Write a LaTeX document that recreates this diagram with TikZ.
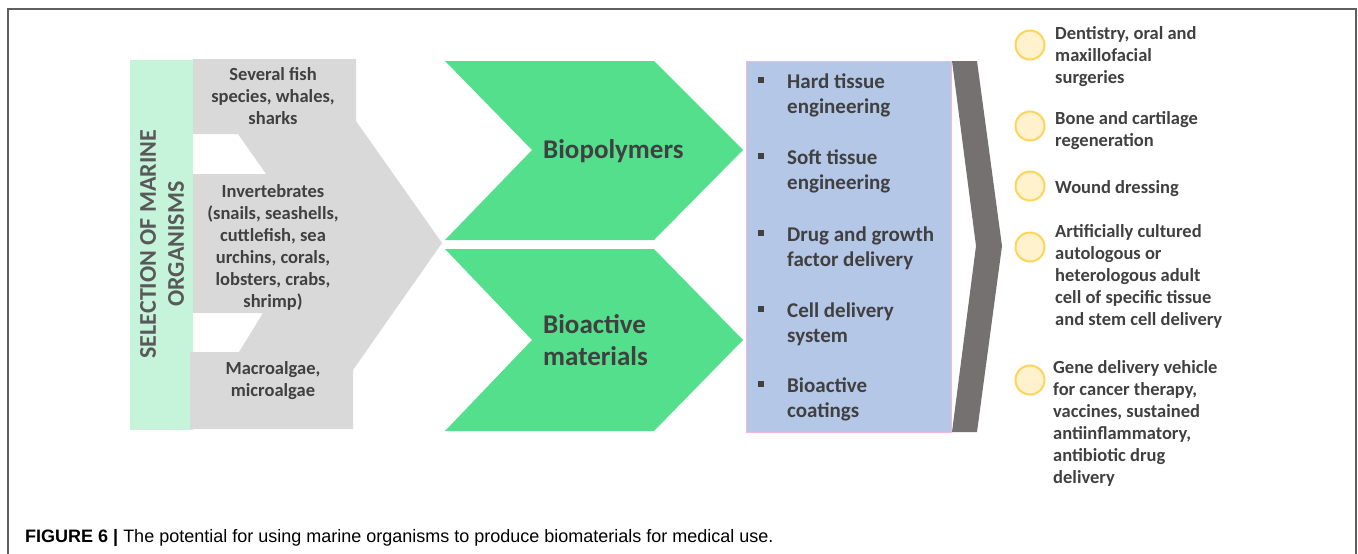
\documentclass[tikz,border=0pt]{standalone}
\usepackage{fontspec}
\setmainfont{Carlito}
\newfontfamily\capfont{Liberation Sans}
\usetikzlibrary{positioning}

\definecolor{mintbar}{HTML}{C6F4DB}
\definecolor{greyarrow}{HTML}{D9D9D9}
\definecolor{chevgreen}{HTML}{53DF8B}
\definecolor{boxblue}{HTML}{B4C7E7}
\definecolor{boxpink}{HTML}{F4B6E6}
\definecolor{darkchev}{HTML}{767171}
\definecolor{dotfill}{HTML}{FFF2CC}
\definecolor{dotline}{HTML}{FFD45A}
\definecolor{txt}{HTML}{404040}
\definecolor{seltxt}{HTML}{595959}
\definecolor{framegrey}{HTML}{5F5F5F}

\begin{document}
\begin{tikzpicture}[x=1pt,y=-1pt,text=txt]
% multi-line nodes sit on the baseline of their last line
\tikzstyle{organism}=[align=center,anchor=base,inner sep=0pt,font=\fontsize{18.5}{22}\selectfont\bfseries]
\tikzstyle{material}=[align=left,anchor=base west,inner sep=0pt,font=\fontsize{27}{32}\selectfont\bfseries]
\tikzstyle{item}=[align=left,anchor=base west,inner sep=0pt,font=\fontsize{21}{25}\selectfont\bfseries]
\tikzstyle{bullet}=[fill=txt,minimum size=5.5pt,inner sep=0pt]
\tikzstyle{use}=[align=left,anchor=base west,inner sep=0pt,font=\fontsize{18.5}{22}\selectfont\bfseries]
\tikzstyle{dot}=[circle,draw=dotline,fill=dotfill,line width=2pt,minimum size=29pt,inner sep=0pt]

\useasboundingbox (0,0) rectangle (1358,554);
\draw[framegrey,line width=1.2pt] (8,560) -- (8,9) -- (1356,9) -- (1356,560);

% organisms
\fill[mintbar] (130,60) rectangle (193,430);
\fill[greyarrow] (193,59) -- (356,59) -- (356,121) -- (442,243) -- (353,370) -- (353,429)
  -- (190,429) -- (190,352) -- (239,352) -- (263,313) -- (193,313) -- (193,174)
  -- (266,174) -- (238,134) -- (193,134) -- cycle;
\node[rotate=90,align=center,font=\fontsize{24}{28}\selectfont\bfseries,text=seltxt] (sel) at (162,244) {SELECTION OF MARINE\\ORGANISMS};
\node[organism] (fish)  at (273,124) {Several fish\\species, whales,\\sharks};
\node[organism] (inv)   at (273,307) {Invertebrates\\(snails, seashells,\\cuttlefish, sea\\urchins, corals,\\lobsters, crabs,\\shrimp)};
\node[organism] (algae) at (273,396) {Macroalgae,\\microalgae};

% materials
\fill[chevgreen] (445,61) -- (654,61) -- (743,150) -- (654,240) -- (445,240) -- (532,150) -- cycle;
\fill[chevgreen] (445,249) -- (654,249) -- (743,340) -- (654,431) -- (445,431) -- (532,340) -- cycle;
\node[material] (bio)    at (543,158) {Biopolymers};
\node[material] (bioact) at (543,365) {Bioactive\\materials};

% applications
\draw[boxpink,fill=boxblue,line width=0.8pt] (746,61) rectangle (951,432);
\node[item] (hard) at (787,113) {Hard tissue\\engineering};
\node[item] (soft) at (787,189) {Soft tissue\\engineering};
\node[item] (drug) at (787,266) {Drug and growth\\factor delivery};
\node[item] (cell) at (787,342) {Cell delivery\\system};
\node[item] (coat) at (787,417) {Bioactive\\coatings};
\node[bullet] (b1) at (761,80)  {};
\node[bullet] (b2) at (761,156) {};
\node[bullet] (b3) at (761,233) {};
\node[bullet] (b4) at (761,309) {};
\node[bullet] (b5) at (761,384) {};
\fill[darkchev] (952,61) -- (977,61) -- (1002,246) -- (977,432) -- (952,432) -- (976,246) -- cycle;

% medical uses
\node[dot] (c1) at (1030,45)  {};
\node[dot] (c2) at (1030,126) {};
\node[dot] (c3) at (1030,186) {};
\node[dot] (c4) at (1030,247) {};
\node[dot] (c5) at (1030,380) {};
\node[use] (dent)  at (1055,83)  {Dentistry, oral and\\maxillofacial\\surgeries};
\node[use] (bone)  at (1055,146) {Bone and cartilage\\regeneration};
\node[use] (wound) at (1055,193) {Wound dressing};
\node[use] (artif) at (1055,325) {Artificially cultured\\autologous or\\heterologous adult\\cell of specific tissue\\and stem cell delivery};
\node[use] (gene)  at (1053,483) {Gene delivery vehicle\\for cancer therapy,\\vaccines, sustained\\antiinflammatory,\\antibiotic drug\\delivery};

\node[anchor=base west,inner sep=0pt,text=black,font=\capfont\fontsize{18}{20}\selectfont] (cap) at (25,542)
  {\textbf{FIGURE 6 |} The potential for using marine organisms to produce biomaterials for medical use.};
\end{tikzpicture}
\end{document}
